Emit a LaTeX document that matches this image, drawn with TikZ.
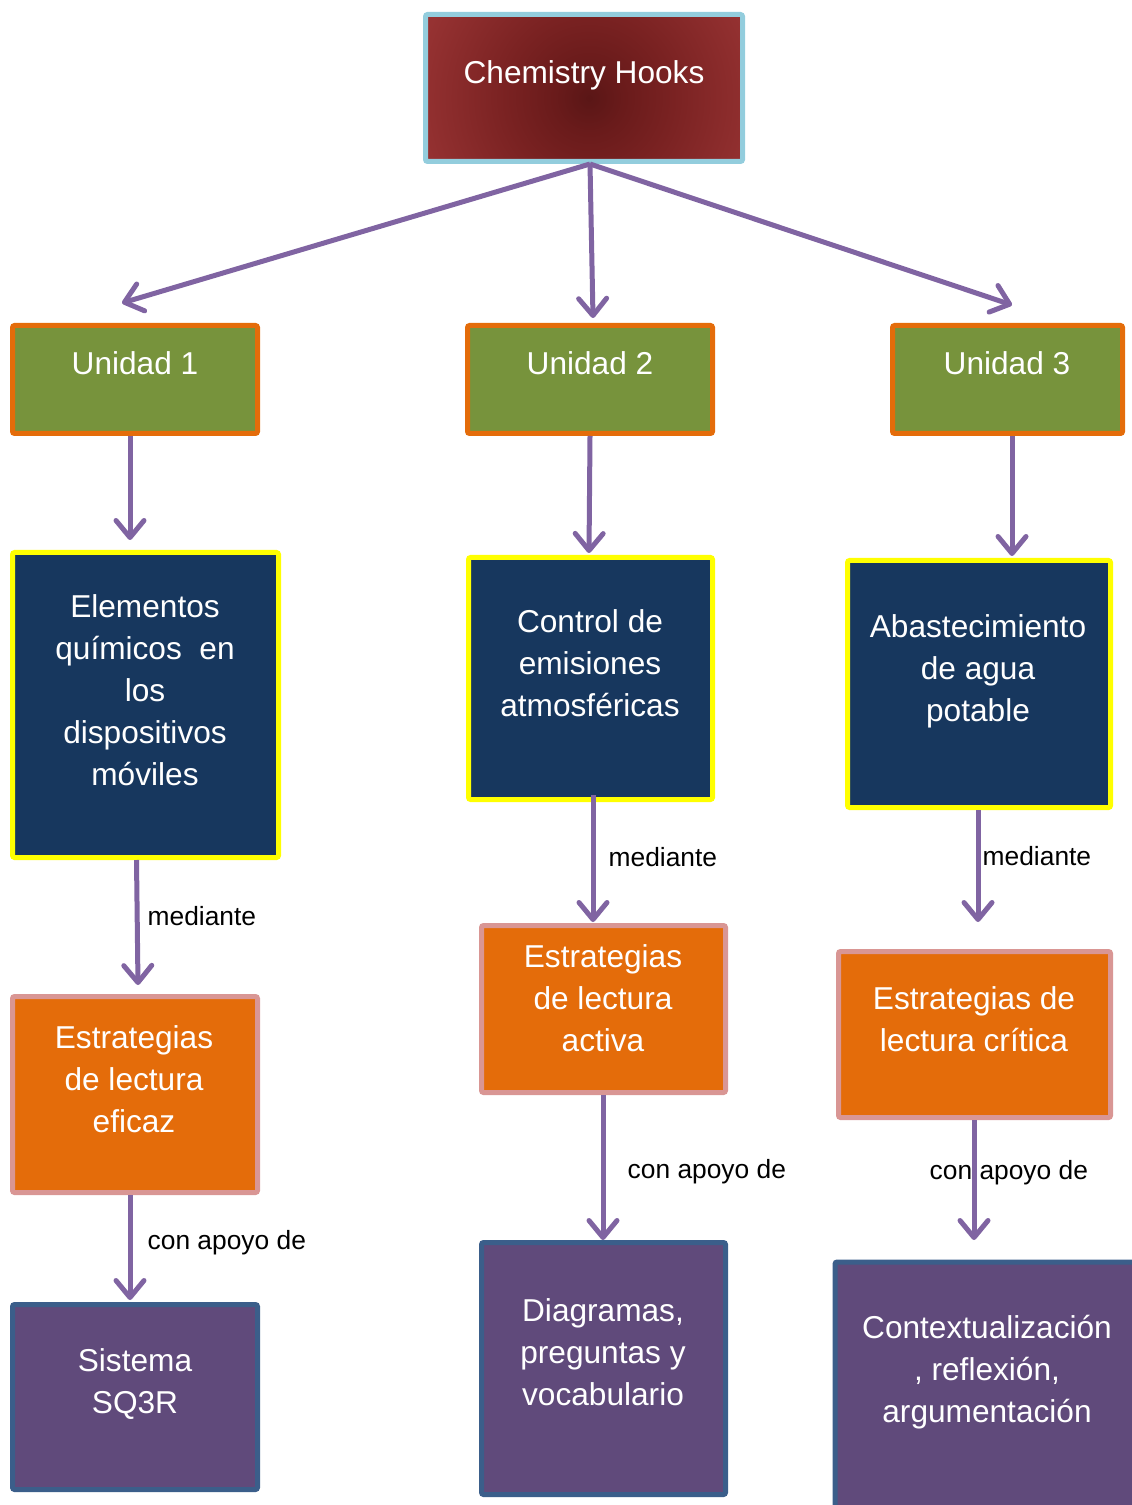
\documentclass[tikz,border=0pt]{standalone}
\usepackage{fontspec}
\setmainfont{Liberation Sans}
\usetikzlibrary{arrows.meta}

\definecolor{bordeazul}{HTML}{93CDDD}
\definecolor{rojoin}{HTML}{5A1616}
\definecolor{rojoa}{HTML}{6A1B1B}
\definecolor{rojob}{HTML}{7A2222}
\definecolor{rojoout}{HTML}{963232}
\definecolor{verde}{HTML}{77933C}
\definecolor{naranja}{HTML}{E46C0A}
\definecolor{azul}{HTML}{17375E}
\definecolor{amarillo}{HTML}{FFFF00}
\definecolor{rosa}{HTML}{D99694}
\definecolor{morado}{HTML}{604A7B}
\definecolor{bordemorado}{HTML}{3B5E8A}
\definecolor{flecha}{HTML}{8064A2}

\pgfdeclareradialshading{rojizo}{\pgfpointorigin}{color(0bp)=(rojoin); color(5bp)=(rojoa); color(12bp)=(rojob); color(25bp)=(rojoout); color(50bp)=(rojoout)}

\begin{document}
\begin{tikzpicture}[
	caja/.style = {draw, line width=0.05cm, rounded corners=0.6pt, inner sep=0pt},
	titulo/.style = {caja, draw=bordeazul, fill=rojoout,
		path picture={\shade[shading=rojizo]
			([xshift=0.05cm,yshift=-0.1cm]path picture bounding box.center) circle (1.75cm);}},
	unidad/.style = {caja, draw=naranja, fill=verde},
	tema/.style = {caja, draw=amarillo, fill=azul},
	estrategia/.style = {caja, draw=rosa, fill=naranja},
	apoyo/.style = {caja, draw=bordemorado, fill=morado},
	texto/.style = {text=white, align=center, inner sep=0pt, font=\fontsize{9}{11.95}\selectfont},
	enlace/.style = {anchor=west, inner sep=0pt, font=\fontsize{7.5}{9}\selectfont},
	flechas/.style = {draw=flecha, line width=0.05cm,
		-{Straight Barb[length=0.17cm, width=0.28cm, round]}},
]
	\useasboundingbox (0,0) rectangle (11.31,-15.05);

	% cajas
	\node[titulo, minimum width=3.17cm, minimum height=1.47cm] (hooks) at (5.84,-0.88) {};
	\node[unidad, minimum width=2.45cm, minimum height=1.08cm] (u1) at (1.35,-3.795) {};
	\node[unidad, minimum width=2.45cm, minimum height=1.08cm] (u2) at (5.90,-3.795) {};
	\node[unidad, minimum width=2.30cm, minimum height=1.08cm] (u3) at (10.075,-3.795) {};
	\node[tema, minimum width=2.66cm, minimum height=3.05cm] (el) at (1.455,-7.05) {};
	\node[tema, minimum width=2.44cm, minimum height=2.42cm] (co) at (5.905,-6.785) {};
	\node[tema, minimum width=2.63cm, minimum height=2.47cm] (ab) at (9.79,-6.84) {};
	\node[estrategia, minimum width=2.45cm, minimum height=1.96cm] (ef) at (1.35,-10.945) {};
	\node[estrategia, minimum width=2.44cm, minimum height=1.67cm] (ac) at (6.035,-10.09) {};
	\node[estrategia, minimum width=2.72cm, minimum height=1.66cm] (cr) at (9.745,-10.345) {};
	\node[apoyo, minimum width=2.45cm, minimum height=1.85cm] (sq) at (1.35,-13.97) {};
	\node[apoyo, minimum width=2.44cm, minimum height=2.52cm] (di) at (6.035,-13.685) {};
	\node[apoyo, minimum width=3.10cm, minimum height=2.60cm] (cx) at (9.90,-13.92) {};

	% textos
	\node[texto] (hooks-t) at (5.84,-0.75) {Chemistry Hooks};
	\node[texto] (u1-t) at (1.35,-3.63) {Unidad 1};
	\node[texto] (u2-t) at (5.90,-3.63) {Unidad 2};
	\node[texto] (u3-t) at (10.07,-3.63) {Unidad 3};
	\node[texto] (el-t) at (1.45,-6.90) {Elementos\\químicos~ en\\los\\dispositivos\\móviles};
	\node[texto] (co-t) at (5.90,-6.63) {Control de\\emisiones\\atmosféricas};
	\node[texto] (ab-t) at (9.78,-6.71) {Abastecimiento\\de agua\\potable};
	\node[texto] (ef-t) at (1.34,-10.79) {Estrategias\\de lectura\\eficaz};
	\node[texto] (ac-t) at (6.03,-9.98) {Estrategias\\de lectura\\activa};
	\node[texto] (cr-t) at (9.74,-10.19) {Estrategias de\\lectura crítica};
	\node[texto] (sq-t) at (1.35,-13.84) {Sistema\\SQ3R};
	\node[texto] (di-t) at (6.03,-13.52) {Diagramas,\\preguntas y\\vocabulario};
	\node[texto] (cx-t) at (9.87,-13.72) {Contextualización\\, reflexión,\\argumentación};

	% etiquetas
	\node[enlace] (m1) at (1.47,-9.16) {mediante};
	\node[enlace] (m2) at (6.08,-8.57) {mediante};
	\node[enlace] (m3) at (9.82,-8.56) {mediante};
	\node[enlace] (a1) at (1.47,-12.43) {con apoyo de};
	\node[enlace] (a2) at (6.27,-11.72) {con apoyo de};
	\node[enlace] (a3) at (9.29,-11.73) {con apoyo de};

	% puntas
	\coordinate (u1in) at (1.22,-3.03);
	\coordinate (u2in) at (5.93,-3.18);
	\coordinate (u3in) at (10.12,-3.05);
	\coordinate (elin) at (1.30,-5.40);
	\coordinate (coin) at (5.89,-5.53);
	\coordinate (abin) at (10.12,-5.56);
	\coordinate (efin) at (1.38,-9.85);
	\coordinate (acin) at (5.93,-9.22);
	\coordinate (crin) at (9.78,-9.22);
	\coordinate (sqin) at (1.30,-13.00);
	\coordinate (diin) at (6.03,-12.40);
	\coordinate (cxin) at (9.74,-12.40);

	\draw[flechas] ([xshift=0.06cm]hooks.south) -- (u1in);
	\draw[flechas] ([xshift=0.06cm]hooks.south) -- (u2in);
	\draw[flechas] ([xshift=0.06cm]hooks.south) -- (u3in);
	\draw[flechas] (u1.south -| elin) -- (elin);
	\draw[flechas] (u2.south) -- (coin);
	\draw[flechas] (u3.south -| abin) -- (abin);
	\draw[flechas] ([xshift=-0.09cm]el.south) -- (efin);
	\draw[flechas] ([yshift=0.07cm]co.south -| acin) -- (acin);
	\draw[flechas] (ab.south -| crin) -- (crin);
	\draw[flechas] (ef.south -| sqin) -- (sqin);
	\draw[flechas] (ac.south -| diin) -- (diin);
	\draw[flechas] (cr.south -| cxin) -- (cxin);
\end{tikzpicture}
\end{document}
